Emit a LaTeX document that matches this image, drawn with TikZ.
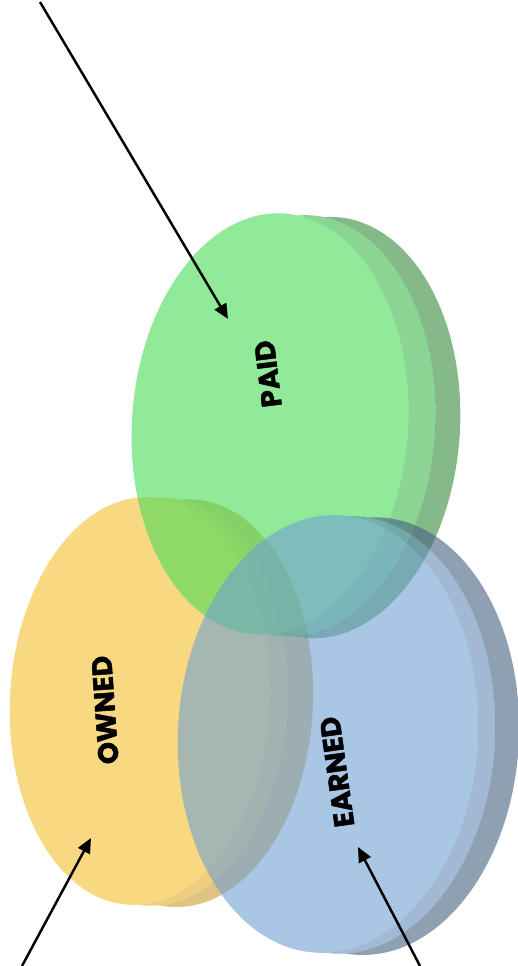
\documentclass[tikz,border=0pt]{standalone}
\usepackage{fontspec}
\usepackage{xcolor}
\usepackage{tikz}
\usetikzlibrary{arrows.meta,calc}
\newfontfamily\tagfont{Poppins}[BoldFeatures={FakeBold=1.6}]

\definecolor{ownedfront}{RGB}{248,216,128}
\definecolor{ownedmid}{RGB}{238,206,126}
\definecolor{ownedrim}{RGB}{222,196,128}
\definecolor{paidfront}{RGB}{72,218,87}
\definecolor{paidmid}{RGB}{60,185,75}
\definecolor{paidrim}{RGB}{52,138,60}
\definecolor{earnedfront}{RGB}{112,160,210}
\definecolor{earnedmid}{RGB}{98,138,182}
\definecolor{earnedrim}{RGB}{70,96,128}

% one tilted disc: centre x, centre y, x radius, y radius, tilt, mid offset, rim offset, colour name
\newcommand{\disc}[8]{%
  \begin{scope}[shift={(#1,#2)}, rotate=#5, #8layer]
    \fill[#8front] (0,0) ellipse [x radius=#3, y radius=#4];
    \pgfmathsetmacro\angm{acos(#6/(2*#3))}
    \pgfmathsetmacro\startm{180-\angm}
    \pgfmathsetmacro\endm{\angm-180}
    \pgfmathsetmacro\backm{-\angm}
    \fill[#8mid] (#6,0) ++({#3*cos(\startm)},{#4*sin(\startm)})
      arc [start angle=\startm, end angle=\endm, x radius=#3, y radius=#4]
      arc [start angle=\backm, end angle=\angm, x radius=#3, y radius=#4] -- cycle;
    \pgfmathsetmacro\angr{acos((#7-#6)/(2*#3))}
    \pgfmathsetmacro\startr{180-\angr}
    \pgfmathsetmacro\endr{\angr-180}
    \pgfmathsetmacro\backr{-\angr}
    \fill[#8rim] (#7,0) ++({#3*cos(\startr)},{#4*sin(\startr)})
      arc [start angle=\startr, end angle=\endr, x radius=#3, y radius=#4]
      arc [start angle=\backr, end angle=\angr, x radius=#3, y radius=#4] -- cycle;
  \end{scope}}

\begin{document}
\begin{tikzpicture}[
  x=0.02cm, y=0.02cm,
  ownedlayer/.style={},
  paidlayer/.style={fill opacity=0.6},
  earnedlayer/.style={fill opacity=0.6},
  tag/.style={font=\tagfont\bfseries\fontsize{16}{16}\selectfont, text=black, inner sep=0pt},
  pointer/.style={-{Triangle[length=8.5pt,width=7.5pt]}, line width=1.4pt}
]
  \useasboundingbox (0,0) rectangle (517,966);

  % discs, back to front
  \disc{140}{265}{130}{204}{-3}{17}{43}{owned}
  \disc{270}{542}{138}{211}{-4}{27}{52}{paid}
  \disc{328}{232}{150}{219}{-3}{17}{41}{earned}

  \node[tag, rotate=97] (paid) at (268,592) {PAID};
  \node[tag, rotate=94] (owned) at (105,256) {OWNED};
  \node[tag, rotate=98] (earned) at (337,194) {EARNED};

  \coordinate (paidfrom) at (40,964);
  \coordinate (paidtip) at (228,647);
  \coordinate (ownedfrom) at (22,0);
  \coordinate (ownedtip) at (91,128);
  \coordinate (earnedfrom) at (420,0);
  \coordinate (earnedtip) at (358,119);

  \draw[pointer] (paidfrom) -- (paidtip);
  \draw[pointer] (ownedfrom) -- (ownedtip);
  \draw[pointer] (earnedfrom) -- (earnedtip);
\end{tikzpicture}
\end{document}
